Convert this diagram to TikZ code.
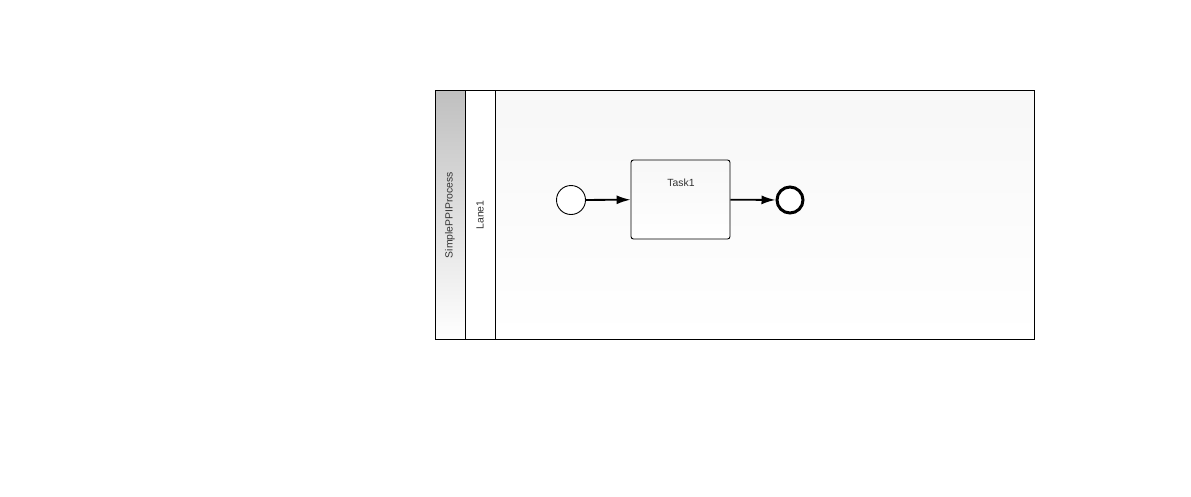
\documentclass[tikz,border=0pt]{standalone}
\usepackage{fontspec}
\setmainfont{Liberation Sans}
\usetikzlibrary{arrows.meta,positioning,calc}

\begin{document}
\begin{tikzpicture}[
        x=1pt, y=-1pt,
        pool/.style={draw=black, line width=0.9pt},
        head/.style={pool, top color=black!25, bottom color=white},
        lanebody/.style={pool, top color=black!3, bottom color=white},
        caption/.style={font=\fontsize{10.4}{12}\selectfont, text=black!80, rotate=90},
        startev/.style={circle, draw=black, line width=0.9pt, fill=white,
            minimum size=29pt, inner sep=0pt},
        endev/.style={circle, draw=black, line width=3pt, fill=white,
            minimum size=26pt, inner sep=0pt},
        taskbox/.style={draw=black, line width=0.9pt, rounded corners=2.5pt,
            top color=black!3, bottom color=white,
            minimum width=99pt, minimum height=79pt, inner sep=0pt},
        flow/.style={line width=1.8pt, -{Latex[length=14pt,width=9pt]}},
    ]
    \useasboundingbox (0,0) rectangle (1191,496);
    % pool and lane
    \draw[lanebody] (495,90) rectangle (1034,339);
    \draw[head] (435,90) rectangle (465,339);
    \draw[pool, fill=white] (465,90) rectangle (495,339);
    \node[caption] (poolname) at (450,215) {SimplePPIProcess};
    \node[caption] (lanename) at (480,215) {Lane1};
    % flow elements
    \node[startev] (start) at (571,200) {};
    \node[taskbox] (task1) at (680.5,199.5) {};
    \node[font=\fontsize{10.4}{12}\selectfont, text=black!80] (tasklabel)
        at (681,183) {Task1};
    \node[endev] (end) at (790,200) {};
    % sequence flows
    \draw[flow] (start) -- (task1);
    \draw[flow] (task1) -- (end);
\end{tikzpicture}
\end{document}
